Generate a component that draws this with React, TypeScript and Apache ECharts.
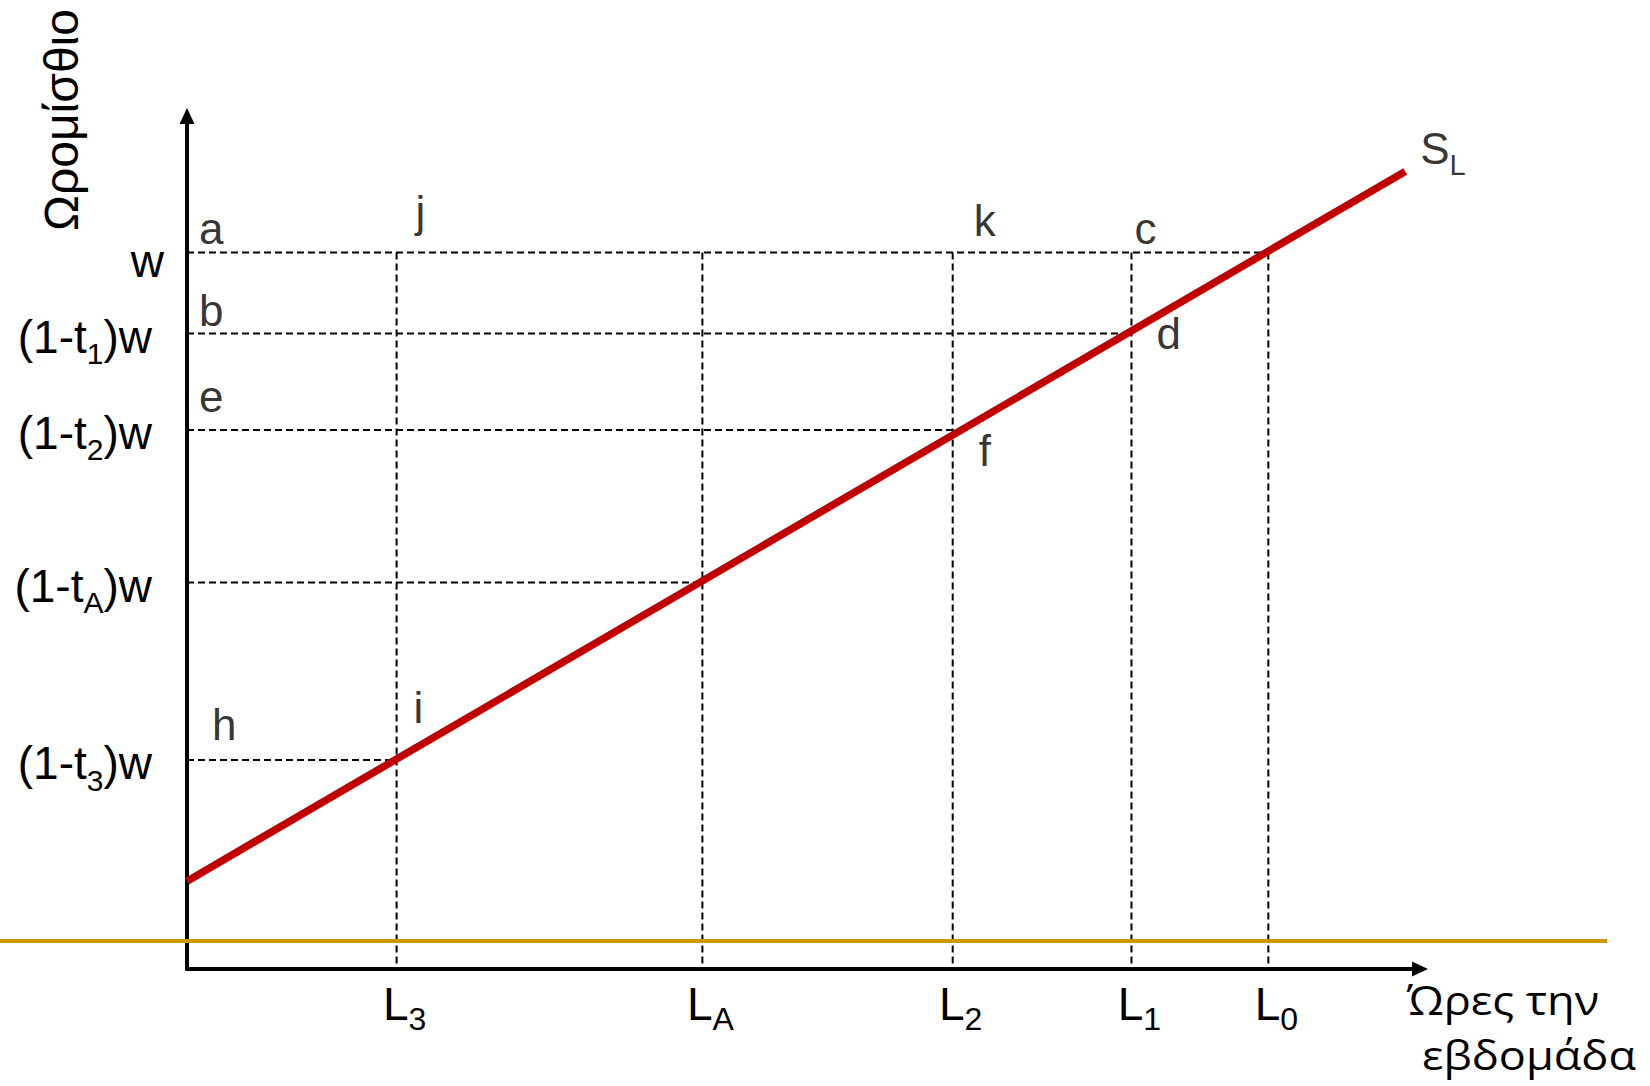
import { useEffect, useRef } from 'react';
import * as echarts from 'echarts';

// ---- data (axis units 0..100) ----
// hours on the x axis: L0, L1, L2, LA, L3
const hourSubs = ['0', '1', '2', 'A', '3'];
const hourValues = [87.7, 76.6, 62.1, 41.8, 17.0];
// wage levels on the y axis: w, (1-t1)w, (1-t2)w, (1-tA)w, (1-t3)w
const wageSubs = ['', '1', '2', 'A', '3'];
const wageValues = [84.0, 74.5, 63.2, 45.3, 24.5];
// labour supply curve S_L
const supplyX = [0, 98.8];
const supplyY = [10.3, 93.5];
// point letters
const pointLetters = ['a', 'b', 'e', 'h', 'j', 'k', 'c', 'd', 'f', 'i'];
const pointX = [0, 0, 0, 0, hourValues[4], hourValues[2], hourValues[1], hourValues[1], hourValues[2], hourValues[4]];
const pointY = [wageValues[0], wageValues[1], wageValues[2], wageValues[4], wageValues[0], wageValues[0], wageValues[0], wageValues[1], wageValues[2], wageValues[4]];
const yTitle = 'Ωρομίσθιο';
const xTitleLines = ['Ώρες την', 'εβδομάδα'];

// ---- styles ----
const FONT = '"Liberation Sans", Arial, sans-serif';
const labelOffsets = [[13, -23], [13, -22], [13, -32], [26, -35], [20, -40], [22, -31], [4, -23], [26, 1], [27, 22], [18, -52]];

const findIdx = (arr: number[], v: number) => arr.findIndex((a) => Math.abs(a - v) < 1e-6);

const dashed = { color: '#000', width: 2, type: [7, 4] as any };

const richY = {
  m: { fontSize: 46, fontFamily: FONT, color: '#000', lineHeight: 46, verticalAlign: 'top', padding: [3, 0, 0, 0] },
  w: { fontSize: 46, fontFamily: FONT, color: '#000', lineHeight: 46, verticalAlign: 'top', padding: [9, 0, 0, 0] },
  s: { fontSize: 30, fontFamily: FONT, color: '#000', lineHeight: 10, verticalAlign: 'top', padding: [28, 0, 0, 0] },
  sp: { width: 12, fontSize: 10, lineHeight: 10 },
};
const richX = {
  m: { fontSize: 46, fontFamily: FONT, color: '#000', lineHeight: 46, verticalAlign: 'top', padding: [6, 0, 0, 0] },
  s: { fontSize: 32, fontFamily: FONT, color: '#000', lineHeight: 10, verticalAlign: 'top', padding: [28, 0, 0, 0] },
  sp: { width: 16, fontSize: 10, lineHeight: 10 },
};
const richS = {
  m: { fontSize: 44, fontFamily: FONT, color: '#000', lineHeight: 44, verticalAlign: 'top', padding: [3, 0, 0, 0] },
  s: { fontSize: 29, fontFamily: FONT, color: '#000', lineHeight: 10, verticalAlign: 'top', padding: [27, 0, 0, 0] },
};

function buildOption(): any {
  const axisLine = {
    show: true,
    symbol: ['none', 'triangle'],
    symbolSize: [15, 16],
    lineStyle: { color: '#000', width: 4 },
  };
  const series: any[] = [];
  wageValues.forEach((y, i) => {
    series.push({
      type: 'line', silent: true, symbol: 'none', z: 2,
      data: [[0, y], [hourValues[i], y]],
      lineStyle: dashed,
    });
  });
  hourValues.forEach((x) => {
    series.push({
      type: 'line', silent: true, symbol: 'none', z: 2,
      data: [[x, wageValues[0]], [x, 0]],
      lineStyle: dashed,
    });
  });
  series.push({
    type: 'line', silent: true, symbol: 'none', z: 3,
    data: supplyX.map((x, i) => [x, supplyY[i]]),
    lineStyle: { color: '#C00000', width: 7.5, cap: 'butt' },
  });
  series.push({
    type: 'scatter', silent: true, symbolSize: 2, z: 4,
    itemStyle: { color: 'transparent' },
    data: pointLetters.map((t, i) => ({
      value: [pointX[i], pointY[i]],
      label: {
        show: true, formatter: t, position: labelOffsets[i],
        align: 'left', verticalAlign: 'middle',
        fontSize: 44, fontFamily: FONT, color: '#000',
      },
    })),
  });
  series.push({
    type: 'scatter', silent: true, symbolSize: 2, z: 4,
    itemStyle: { color: 'transparent' },
    data: [{
      value: [supplyX[1], supplyY[1]],
      label: {
        show: true, formatter: '{m|S}{s|L}', position: [16, -25],
        align: 'left', verticalAlign: 'middle', rich: richS,
      },
    }],
  });

  return {
    animation: false,
    backgroundColor: '#fff',
    grid: { left: 187, top: 116, right: 230, bottom: 117, containLabel: false },
    xAxis: {
      type: 'value', min: 0, max: 100,
      axisLine,
      axisTick: { show: false },
      splitLine: { show: false },
      axisLabel: {
        customValues: hourValues,
        margin: 6,
        formatter: (v: number) => {
          const i = findIdx(hourValues, v);
          return i < 0 ? '' : `{sp| }{m|L}{s|${hourSubs[i]}}`;
        },
        rich: richX,
      },
    },
    yAxis: {
      type: 'value', min: 0, max: 100,
      axisLine,
      axisTick: { show: false },
      splitLine: { show: false },
      axisLabel: {
        customValues: wageValues,
        margin: 23,
        formatter: (v: number) => {
          const i = findIdx(wageValues, v);
          if (i < 0) return '';
          return wageSubs[i] === '' ? '{w|w}' : `{m|(1-t}{s|${wageSubs[i]}}{m|)w}{sp| }`;
        },
        rich: richY,
      },
    },
    graphic: [
      {
        type: 'line', z: 10, silent: true,
        shape: { x1: 0, y1: 941, x2: 1607, y2: 941 },
        style: { stroke: '#CC9900', lineWidth: 4 },
      },
      {
        type: 'text', x: 61, y: 120, rotation: Math.PI / 2, silent: true,
        style: { text: yTitle, fontSize: 48, fontFamily: FONT, fill: '#000', align: 'center', verticalAlign: 'middle' },
      },
      {
        type: 'text', x: 1407, y: 999, scaleX: 1.1, silent: true,
        style: { text: xTitleLines[0], fontSize: 41, fontFamily: '"Open Sans", "Noto Sans", sans-serif', fill: '#000', align: 'left', verticalAlign: 'middle' },
      },
      {
        type: 'text', x: 1422, y: 1054, scaleX: 1.1, silent: true,
        style: { text: xTitleLines[1], fontSize: 41, fontFamily: '"Open Sans", "Noto Sans", sans-serif', fill: '#000', align: 'left', verticalAlign: 'middle' },
      },
    ],
    series,
  };
}

export default function App() {
  const ref = useRef<HTMLDivElement>(null);
  useEffect(() => {
    if (!ref.current) return;
    const chart = echarts.init(ref.current, null, { renderer: 'svg' });
    chart.setOption(buildOption());
    return () => chart.dispose();
  }, []);
  return (
    <div
      ref={ref}
      style={{ position: 'fixed', left: 0, top: 0, width: 1650, height: 1086, background: '#fff' }}
    />
  );
}
